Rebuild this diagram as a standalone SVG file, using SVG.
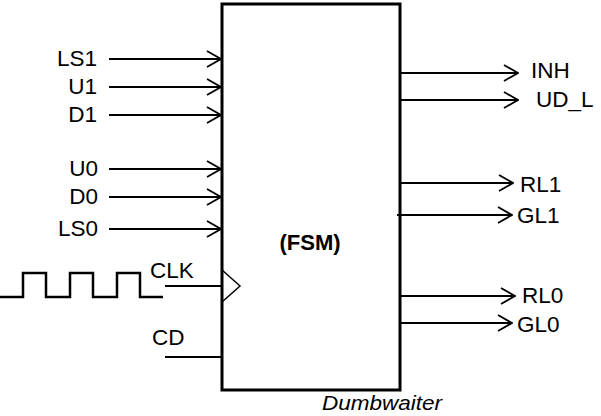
<svg xmlns="http://www.w3.org/2000/svg" width="601" height="416" viewBox="0 0 601 416">
<defs>
<marker id="arr" markerWidth="16" markerHeight="18" refX="15" refY="9" orient="auto" markerUnits="userSpaceOnUse">
<path d="M1,1 L15,9 L1,17" fill="none" stroke="#000" stroke-width="1.8"/>
</marker>
</defs>
<style>
.lbl{font-family:"Liberation Sans",Arial,sans-serif;font-size:22.5px;fill:#000}
.ln{stroke:#000;stroke-width:1.8;fill:none}
</style>
<rect width="601" height="416" fill="#fff"/>
<g id="fsm">
<rect x="222" y="4" width="178" height="386" fill="none" stroke="#000" stroke-width="3"/>
<text x="310" y="250" text-anchor="middle" style="font-family:'Liberation Sans',Arial,sans-serif;font-size:22px;font-weight:bold">(FSM)</text>
<path d="M222,270 L240,286 L222,302" fill="none" stroke="#000" stroke-width="1.5"/>
</g>
<g id="connectors">
<line class="ln" x1="109" y1="59" x2="221" y2="59" marker-end="url(#arr)"/>
<line class="ln" x1="109" y1="87" x2="221" y2="87" marker-end="url(#arr)"/>
<line class="ln" x1="109" y1="115" x2="221" y2="115" marker-end="url(#arr)"/>
<line class="ln" x1="109" y1="169" x2="221" y2="169" marker-end="url(#arr)"/>
<line class="ln" x1="109" y1="197" x2="221" y2="197" marker-end="url(#arr)"/>
<line class="ln" x1="109" y1="229" x2="221" y2="229" marker-end="url(#arr)"/>
<line class="ln" x1="400" y1="73" x2="518" y2="73" marker-end="url(#arr)"/>
<line class="ln" x1="400" y1="100" x2="518" y2="100" marker-end="url(#arr)"/>
<line class="ln" x1="400" y1="183" x2="513" y2="183" marker-end="url(#arr)"/>
<line class="ln" x1="397" y1="215" x2="512" y2="215" marker-end="url(#arr)"/>
<line class="ln" x1="400" y1="296" x2="515" y2="296" marker-end="url(#arr)"/>
<line class="ln" x1="400" y1="323" x2="512" y2="323" marker-end="url(#arr)"/>
<line class="ln" x1="165" y1="286" x2="222" y2="286"/>
<line class="ln" x1="165" y1="357" x2="222" y2="357"/>
<path d="M0,297 H23 V273 H46 V297 H70 V273 H93 V297 H117 V273 H140 V297 H163" fill="none" stroke="#000" stroke-width="2.5"/>
</g>
<g id="labels">
<text class="lbl" x="97" y="66" text-anchor="end">LS1</text>
<text class="lbl" x="97" y="94" text-anchor="end">U1</text>
<text class="lbl" x="97" y="122" text-anchor="end">D1</text>
<text class="lbl" x="98" y="176" text-anchor="end">U0</text>
<text class="lbl" x="98" y="204" text-anchor="end">D0</text>
<text class="lbl" x="98" y="236" text-anchor="end">LS0</text>
<text class="lbl" x="150" y="278">CLK</text>
<text class="lbl" x="152" y="345">CD</text>
<text class="lbl" x="531" y="78">INH</text>
<text class="lbl" x="536" y="107">UD_L</text>
<text class="lbl" x="520" y="192">RL1</text>
<text class="lbl" x="517" y="223">GL1</text>
<text class="lbl" x="522" y="303">RL0</text>
<text class="lbl" x="517" y="332">GL0</text>
<text x="322" y="410" textLength="120" lengthAdjust="spacingAndGlyphs" style="font-family:'Liberation Sans',Arial,sans-serif;font-size:21px;font-style:italic">Dumbwaiter</text>
</g>
</svg>
